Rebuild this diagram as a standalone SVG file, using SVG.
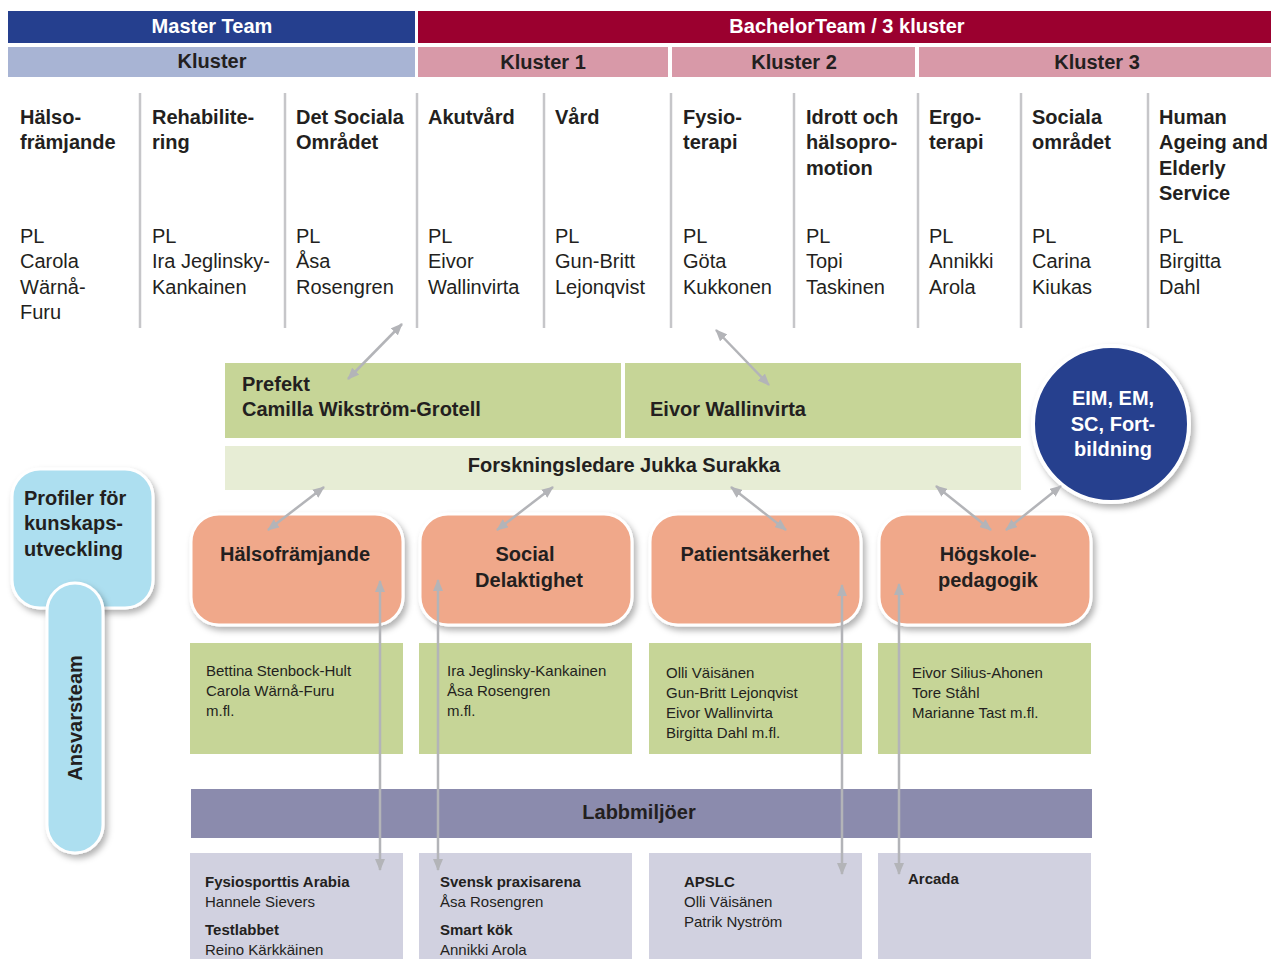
<svg xmlns="http://www.w3.org/2000/svg" width="1271" height="959" viewBox="0 0 1271 959">
<defs>
<style>
text{font-family:"Liberation Sans",Arial,sans-serif;fill:#231f20}
.b{font-weight:bold;font-size:20px}
.w{font-weight:bold;font-size:20px;fill:#fff}
.r{font-size:20px}
.s{font-size:15px}
.sb{font-size:15px;font-weight:bold}
.c{text-anchor:middle}
.sep{stroke:#c6c6c9;stroke-width:2.5}
.con{stroke:#b3b4b8;stroke-width:2.5;fill:none;marker-end:url(#ah);marker-start:url(#ah)}
.grn{fill:#c6d597}
.lav{fill:#d1d1e0}
.org{fill:#f0a88a;stroke:#fff;stroke-width:3;filter:url(#sh)}
</style>
<marker id="ah" markerUnits="userSpaceOnUse" markerWidth="12" markerHeight="10" refX="11" refY="5" orient="auto-start-reverse" viewBox="0 0 12 10">
<path d="M0,0 L12,5 L0,10 z" fill="#b3b4b8"/>
</marker>
<filter id="sh" x="-20%" y="-20%" width="140%" height="140%">
<feDropShadow dx="3" dy="4" stdDeviation="3" flood-color="#000" flood-opacity="0.3"/>
</filter>
</defs>
<rect width="1271" height="959" fill="#fff"/>

<g id="header">
<rect x="8" y="11" width="407" height="32" fill="#253f8e"/>
<text class="w c" x="212" y="33">Master Team</text>
<rect x="418" y="11" width="853" height="32" fill="#9b002f"/>
<text class="w c" x="847" y="33">BachelorTeam / 3 kluster</text>
<rect x="8" y="47" width="407" height="30" fill="#a8b4d4"/>
<text class="b c" x="212" y="68">Kluster</text>
<rect x="418" y="47" width="250" height="30" fill="#d899a8"/>
<text class="b c" x="543" y="69">Kluster 1</text>
<rect x="672" y="47" width="243" height="30" fill="#d899a8"/>
<text class="b c" x="794" y="69">Kluster 2</text>
<rect x="919" y="47" width="352" height="30" fill="#d899a8"/>
<text class="b c" x="1097" y="69">Kluster 3</text>
</g>

<g id="columns">
<line class="sep" x1="140" y1="93" x2="140" y2="328"/>
<line class="sep" x1="285" y1="93" x2="285" y2="328"/>
<line class="sep" x1="417" y1="93" x2="417" y2="328"/>
<line class="sep" x1="544" y1="93" x2="544" y2="328"/>
<line class="sep" x1="671" y1="93" x2="671" y2="328"/>
<line class="sep" x1="794" y1="93" x2="794" y2="328"/>
<line class="sep" x1="918" y1="93" x2="918" y2="328"/>
<line class="sep" x1="1021" y1="93" x2="1021" y2="328"/>
<line class="sep" x1="1148" y1="93" x2="1148" y2="328"/>
</g>

<g id="col-halsoframjande">
<text class="b" x="20" y="124">Hälso-</text><text class="b" x="20" y="149">främjande</text>
<text class="r" x="20" y="243">PL</text><text class="r" x="20" y="268">Carola</text><text class="r" x="20" y="294">Wärnå-</text><text class="r" x="20" y="319">Furu</text>
</g>
<g id="col-rehabilitering">
<text class="b" x="152" y="124">Rehabilite-</text><text class="b" x="152" y="149">ring</text>
<text class="r" x="152" y="243">PL</text><text class="r" x="152" y="268">Ira Jeglinsky-</text><text class="r" x="152" y="294">Kankainen</text>
</g>
<g id="col-detsociala">
<text class="b" x="296" y="124">Det Sociala</text><text class="b" x="296" y="149">Området</text>
<text class="r" x="296" y="243">PL</text><text class="r" x="296" y="268">Åsa</text><text class="r" x="296" y="294">Rosengren</text>
</g>
<g id="col-akutvard">
<text class="b" x="428" y="124">Akutvård</text>
<text class="r" x="428" y="243">PL</text><text class="r" x="428" y="268">Eivor</text><text class="r" x="428" y="294">Wallinvirta</text>
</g>
<g id="col-vard">
<text class="b" x="555" y="124">Vård</text>
<text class="r" x="555" y="243">PL</text><text class="r" x="555" y="268">Gun-Britt</text><text class="r" x="555" y="294">Lejonqvist</text>
</g>
<g id="col-fysioterapi">
<text class="b" x="683" y="124">Fysio-</text><text class="b" x="683" y="149">terapi</text>
<text class="r" x="683" y="243">PL</text><text class="r" x="683" y="268">Göta</text><text class="r" x="683" y="294">Kukkonen</text>
</g>
<g id="col-idrott">
<text class="b" x="806" y="124">Idrott och</text><text class="b" x="806" y="149">hälsopro-</text><text class="b" x="806" y="175">motion</text>
<text class="r" x="806" y="243">PL</text><text class="r" x="806" y="268">Topi</text><text class="r" x="806" y="294">Taskinen</text>
</g>
<g id="col-ergoterapi">
<text class="b" x="929" y="124">Ergo-</text><text class="b" x="929" y="149">terapi</text>
<text class="r" x="929" y="243">PL</text><text class="r" x="929" y="268">Annikki</text><text class="r" x="929" y="294">Arola</text>
</g>
<g id="col-sociala">
<text class="b" x="1032" y="124">Sociala</text><text class="b" x="1032" y="149">området</text>
<text class="r" x="1032" y="243">PL</text><text class="r" x="1032" y="268">Carina</text><text class="r" x="1032" y="294">Kiukas</text>
</g>
<g id="col-human">
<text class="b" x="1159" y="124">Human</text><text class="b" x="1159" y="149">Ageing and</text><text class="b" x="1159" y="175">Elderly</text><text class="b" x="1159" y="200">Service</text>
<text class="r" x="1159" y="243">PL</text><text class="r" x="1159" y="268">Birgitta</text><text class="r" x="1159" y="294">Dahl</text>
</g>

<g id="prefekt">
<rect class="grn" x="225" y="363" width="396" height="75"/>
<text class="b" x="242" y="391">Prefekt</text>
<text class="b" x="242" y="416">Camilla Wikström-Grotell</text>
</g>
<g id="eivor">
<rect class="grn" x="625" y="363" width="396" height="75"/>
<text class="b" x="650" y="416">Eivor Wallinvirta</text>
</g>
<g id="forskningsledare">
<rect x="225" y="446" width="796" height="44" fill="#e7edd5"/>
<text class="b c" x="624" y="472">Forskningsledare Jukka Surakka</text>
</g>
<g id="eim">
<circle cx="1111" cy="424" r="78" fill="#253f8e" stroke="#fff" stroke-width="4" filter="url(#sh)"/>
<text class="w c" x="1113" y="405">EIM, EM,</text>
<text class="w c" x="1113" y="431">SC, Fort-</text>
<text class="w c" x="1113" y="456">bildning</text>
</g>

<g id="profiler">
<rect x="12" y="469" width="141" height="139" rx="28" fill="#addff0" stroke="#fff" stroke-width="3" filter="url(#sh)"/>
<text class="b" x="24" y="505">Profiler för</text>
<text class="b" x="24" y="530">kunskaps-</text>
<text class="b" x="24" y="556">utveckling</text>
</g>
<g id="ansvarsteam">
<rect x="47" y="583" width="56" height="270" rx="28" fill="#addff0" stroke="#fff" stroke-width="3" filter="url(#sh)"/>
<text class="b c" transform="translate(82,718) rotate(-90)" x="0" y="0">Ansvarsteam</text>
</g>

<g id="p-halso">
<rect class="org" x="191" y="514" width="212" height="111" rx="28"/>
<text class="b c" x="295" y="561">Hälsofrämjande</text>
</g>
<g id="p-social">
<rect class="org" x="420" y="514" width="212" height="111" rx="28"/>
<text class="b c" x="525" y="561">Social</text>
<text class="b c" x="529" y="587">Delaktighet</text>
</g>
<g id="p-patient">
<rect class="org" x="650" y="514" width="211" height="111" rx="28"/>
<text class="b c" x="755" y="561">Patientsäkerhet</text>
</g>
<g id="p-hogskole">
<rect class="org" x="879" y="514" width="212" height="111" rx="28"/>
<text class="b c" x="988" y="561">Högskole-</text>
<text class="b c" x="988" y="587">pedagogik</text>
</g>

<g id="team-halso">
<rect class="grn" x="190" y="643" width="213" height="111"/>
<text class="s" x="206" y="676">Bettina Stenbock-Hult</text>
<text class="s" x="206" y="696">Carola Wärnå-Furu</text>
<text class="s" x="206" y="716">m.fl.</text>
</g>
<g id="team-social">
<rect class="grn" x="419" y="643" width="213" height="111"/>
<text class="s" x="447" y="676">Ira Jeglinsky-Kankainen</text>
<text class="s" x="447" y="696">Åsa Rosengren</text>
<text class="s" x="447" y="716">m.fl.</text>
</g>
<g id="team-patient">
<rect class="grn" x="649" y="643" width="213" height="111"/>
<text class="s" x="666" y="678">Olli Väisänen</text>
<text class="s" x="666" y="698">Gun-Britt Lejonqvist</text>
<text class="s" x="666" y="718">Eivor Wallinvirta</text>
<text class="s" x="666" y="738">Birgitta Dahl m.fl.</text>
</g>
<g id="team-hogskole">
<rect class="grn" x="878" y="643" width="213" height="111"/>
<text class="s" x="912" y="678">Eivor Silius-Ahonen</text>
<text class="s" x="912" y="698">Tore Ståhl</text>
<text class="s" x="912" y="718">Marianne Tast m.fl.</text>
</g>

<g id="labbmiljoer">
<rect x="191" y="789" width="901" height="49" fill="#8b8bad"/>
<text class="b c" x="639" y="819">Labbmiljöer</text>
</g>

<g id="lab-1">
<rect class="lav" x="190" y="853" width="213" height="106"/>
<text class="sb" x="205" y="887">Fysiosporttis Arabia</text>
<text class="s" x="205" y="907">Hannele Sievers</text>
<text class="sb" x="205" y="935">Testlabbet</text>
<text class="s" x="205" y="955">Reino Kärkkäinen</text>
</g>
<g id="lab-2">
<rect class="lav" x="419" y="853" width="213" height="106"/>
<text class="sb" x="440" y="887">Svensk praxisarena</text>
<text class="s" x="440" y="907">Åsa Rosengren</text>
<text class="sb" x="440" y="935">Smart kök</text>
<text class="s" x="440" y="955">Annikki Arola</text>
</g>
<g id="lab-3">
<rect class="lav" x="649" y="853" width="213" height="106"/>
<text class="sb" x="684" y="887">APSLC</text>
<text class="s" x="684" y="907">Olli Väisänen</text>
<text class="s" x="684" y="927">Patrik Nyström</text>
</g>
<g id="lab-4">
<rect class="lav" x="878" y="853" width="213" height="106"/>
<text class="sb" x="908" y="884">Arcada</text>
</g>

<g id="connectors">
<line class="con" x1="402" y1="324" x2="348" y2="379"/>
<line class="con" x1="716" y1="330" x2="769" y2="385"/>
<line class="con" x1="324" y1="487" x2="268" y2="530"/>
<line class="con" x1="553" y1="487" x2="497" y2="530"/>
<line class="con" x1="731" y1="487" x2="786" y2="530"/>
<line class="con" x1="936" y1="486" x2="991" y2="530"/>
<line class="con" x1="1061" y1="486" x2="1006" y2="530"/>
<line class="con" x1="380" y1="581" x2="380" y2="870"/>
<line class="con" x1="438" y1="580" x2="438" y2="870"/>
<line class="con" x1="842" y1="585" x2="842" y2="874"/>
<line class="con" x1="899" y1="584" x2="899" y2="874"/>
</g>
</svg>
